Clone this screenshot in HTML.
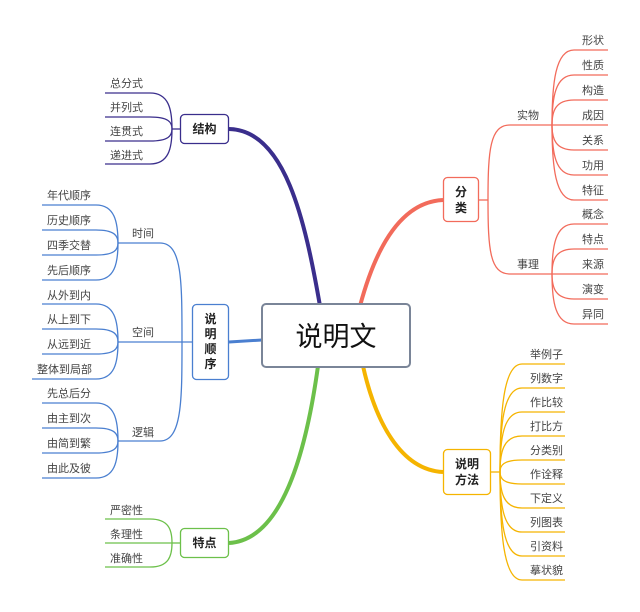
<!DOCTYPE html>
<html><head><meta charset="utf-8">
<style>
html,body{margin:0;padding:0;background:#fff;}
svg{display:block;}
text{font-family:"Liberation Sans","Noto Sans CJK SC",sans-serif;font-size:11px;fill:#444;}
.b{font-weight:bold;font-size:12px;fill:#222;}
</style></head>
<body>
<svg id="s" width="640" height="612" viewBox="0 0 640 612" xmlns="http://www.w3.org/2000/svg">
<g id="lines" fill="none"></g>
<path d="M229,129 C285,130 305,220 320,306" stroke="#3a2e8c" stroke-width="4" fill="none"/>
<path d="M229,342 L262,340" stroke="#4a7fd0" stroke-width="3" fill="none"/>
<path d="M229,543 C280,540 305,460 318,366" stroke="#6cc04a" stroke-width="4" fill="none"/>
<path d="M443,200 C400,202 375,250 360,306" stroke="#f26b5b" stroke-width="4" fill="none"/>
<path d="M443,472 C400,470 375,420 363,366" stroke="#f5b400" stroke-width="4" fill="none"/>
<rect x="262" y="304" width="148" height="63" rx="4" fill="#fff" stroke="#7a8598" stroke-width="2"/>
<text x="336" y="346" text-anchor="middle" style="font-size:27px;fill:#111">说明文</text>
<rect x="180.5" y="114.5" width="48" height="29" rx="4" fill="#fff" stroke="#3a2e8c" stroke-width="1.3"/>
<text class="b" x="204.5" y="133" text-anchor="middle">结构</text>
<rect x="192.5" y="304.5" width="36" height="75" rx="4" fill="#fff" stroke="#4a7fd0" stroke-width="1.3"/>
<text class="b" x="210.5" y="323" text-anchor="middle">说</text>
<text class="b" x="210.5" y="338" text-anchor="middle">明</text>
<text class="b" x="210.5" y="353" text-anchor="middle">顺</text>
<text class="b" x="210.5" y="368" text-anchor="middle">序</text>
<rect x="180.5" y="528.5" width="48" height="29" rx="4" fill="#fff" stroke="#6cc04a" stroke-width="1.3"/>
<text class="b" x="204.5" y="547" text-anchor="middle">特点</text>
<rect x="443.5" y="177.5" width="35" height="44" rx="4" fill="#fff" stroke="#f26b5b" stroke-width="1.3"/>
<text class="b" x="461" y="196" text-anchor="middle">分</text>
<text class="b" x="461" y="212" text-anchor="middle">类</text>
<rect x="443.5" y="449.5" width="47" height="45" rx="4" fill="#fff" stroke="#f5b400" stroke-width="1.3"/>
<text class="b" x="467" y="468" text-anchor="middle">说明</text>
<text class="b" x="467" y="484" text-anchor="middle">方法</text>
<text x="110" y="87">总分式</text><text x="110" y="111">并列式</text><text x="110" y="135">连贯式</text><text x="110" y="159">递进式</text>
<text x="132" y="237">时间</text><text x="132" y="336">空间</text><text x="132" y="436">逻辑</text>
<text x="47" y="199">年代顺序</text><text x="47" y="224">历史顺序</text><text x="47" y="249">四季交替</text><text x="47" y="274">先后顺序</text>
<text x="47" y="299">从外到内</text><text x="47" y="323">从上到下</text><text x="47" y="348">从远到近</text><text x="37" y="373">整体到局部</text>
<text x="47" y="397">先总后分</text><text x="47" y="422">由主到次</text><text x="47" y="447">由简到繁</text><text x="47" y="472">由此及彼</text>
<text x="110" y="514">严密性</text><text x="110" y="538">条理性</text><text x="110" y="562">准确性</text>
<text x="517" y="119">实物</text><text x="517" y="268">事理</text>
<text x="582" y="44">形状</text><text x="582" y="69">性质</text><text x="582" y="94">构造</text><text x="582" y="119">成因</text><text x="582" y="144">关系</text><text x="582" y="169">功用</text><text x="582" y="194">特征</text>
<text x="582" y="218">概念</text><text x="582" y="243">特点</text><text x="582" y="268">来源</text><text x="582" y="293">演变</text><text x="582" y="318">异同</text>
<text x="530" y="358">举例子</text><text x="530" y="382">列数字</text><text x="530" y="406">作比较</text><text x="530" y="430">打比方</text><text x="530" y="454">分类别</text><text x="530" y="478">作诠释</text><text x="530" y="502">下定义</text><text x="530" y="526">列图表</text><text x="530" y="550">引资料</text><text x="530" y="574">摹状貌</text>
</svg>
<script>
var g=document.getElementById('lines');
function p(d,c){var e=document.createElementNS('http://www.w3.org/2000/svg','path');e.setAttribute('d',d);e.setAttribute('stroke',c);e.setAttribute('stroke-width','1.3');g.appendChild(e);}
function fan(cx,cy,dir,w,ex,ys,c){ys.forEach(function(y){var bx=cx+dir*w;p('M'+cx+','+cy+' C'+cx+','+(cy+(y-cy)*0.55)+' '+(cx+dir*w*0.15)+','+y+' '+bx+','+y+' L'+ex+','+y,c);});}
p('M180,129 L172,129','#3a2e8c');
fan(172,129,-1,22,105,[93,117,141,164],'#3a2e8c');
var B='#4a7fd0';
p('M192,342 L118,342',B);
p('M182,342 C182,280 182,243 160,243 L118,243',B);
p('M182,342 C182,400 182,441 160,441 L118,441',B);
fan(118,243,-1,22,42,[205,230,255,280],B);
fan(118,342,-1,22,42,[304,329,354],B);
fan(118,342,-1,22,32,[379],B);
fan(118,441,-1,22,42,[403,428,453,478],B);
p('M180,543 L172,543','#6cc04a');
fan(172,543,-1,22,105,[519,543,567],'#6cc04a');
var R='#f26b5b';
p('M479,200 L488,200',R);
p('M488,200 C488,150 490,125 510,125 L552,125',R);
p('M488,200 C488,250 490,274 510,274 L552,274',R);
fan(552,125,1,22,608,[50,75,100,125,150,175,200],R);
fan(552,274,1,22,608,[224,249,274,299,324],R);
fan(500,472,1,22,565,[364,388,412,436,460,484,508,532,556,580],'#f5b400');
p('M491,472 L500,472','#f5b400');
</script>
</body></html>
